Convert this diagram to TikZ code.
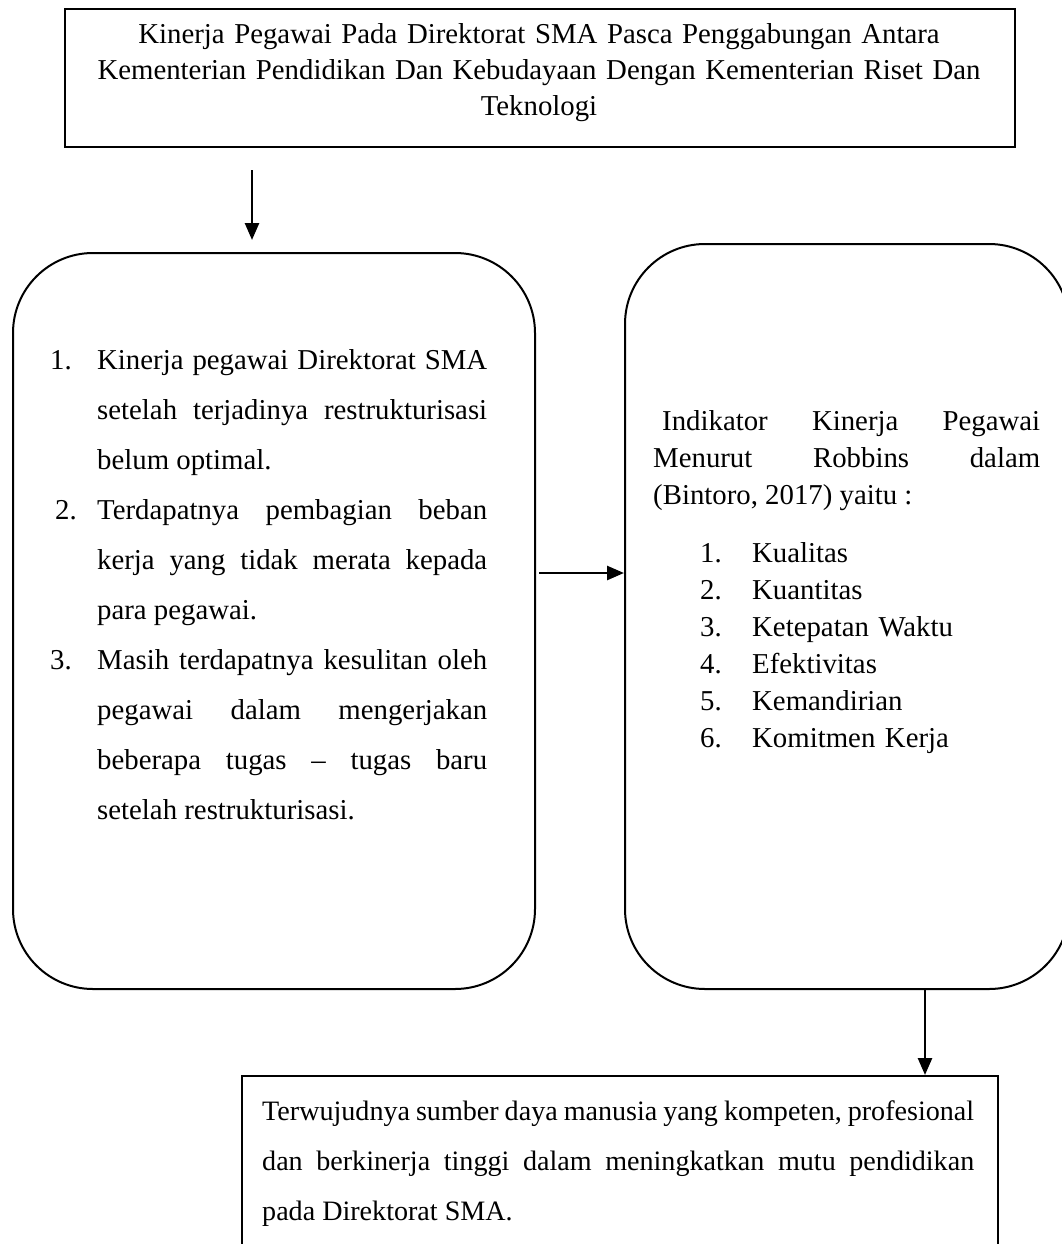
\documentclass[tikz,border=0pt]{standalone}
\usepackage{fontspec}
\setmainfont{Liberation Serif}
\usetikzlibrary{arrows.meta}
\tikzset{
  sqbox/.style={draw, line width=2pt, inner sep=0pt, anchor=north west},
  rbox/.style={draw, line width=2pt, rounded corners=80pt, inner sep=0pt, anchor=north west},
  arr/.style={line width=2.6pt, -{Triangle[length=17pt,width=14pt]}},
  txt/.style={inner sep=0pt, font=\fontsize{28.8}{36}\selectfont},
}
\begin{document}
\begin{tikzpicture}[x=1pt,y=-1pt]
\useasboundingbox (0,0) rectangle (1062,1244);
\clip (0,0) rectangle (1062,1244);
% boxes
\node[sqbox, minimum width=950pt, minimum height=138pt] (top) at (64,8) {};
\node[rbox, minimum width=522pt, minimum height=736pt] (left) at (12,252) {};
\node[rbox, minimum width=444pt, minimum height=745pt] (right) at (624,243) {};
\node[sqbox, minimum width=756pt, minimum height=220pt] (bottom) at (241,1075) {};
% texts
\node[txt, anchor=base, text width=950pt, align=center] (toptext) at (539,44)
  {Kinerja Pegawai Pada Direktorat SMA Pasca Penggabungan Antara\\
   Kementerian Pendidikan Dan Kebudayaan Dengan Kementerian Riset Dan\\
   Teknologi};
\node[txt, anchor=base west, text width=437pt, align=justify] (lefttext) at (50,369)
  {\baselineskip=50pt
   \hangindent=47pt\hangafter=1\noindent\makebox[47pt][l]{1.}Kinerja pegawai Direktorat SMA\linebreak
   setelah terjadinya restrukturisasi\linebreak belum optimal.\par
   \hangindent=47pt\hangafter=1\noindent\makebox[47pt][l]{\hspace{5pt}2.}Terdapatnya pembagian beban\linebreak
   kerja yang tidak merata kepada\linebreak para pegawai.\par
   \hangindent=47pt\hangafter=1\noindent\makebox[47pt][l]{3.}Masih terdapatnya kesulitan oleh\linebreak
   pegawai dalam mengerjakan\linebreak beberapa tugas -- tugas baru\linebreak
   setelah restrukturisasi.\par};
\node[txt, anchor=base west, text width=387pt, align=justify] (righttext) at (653,430)
  {\baselineskip=37pt
   \hspace*{9pt}Indikator Kinerja Pegawai\linebreak Menurut Robbins dalam\linebreak
   (Bintoro, 2017) yaitu :\par};
\node[txt, anchor=base west, text width=330pt, align=left, font=\fontsize{28.8}{37}\selectfont] (rightlist) at (700,562)
  {\makebox[52pt][l]{1.}Kualitas\\
   \makebox[52pt][l]{2.}Kuantitas\\
   \makebox[52pt][l]{3.}Ketepatan Waktu\\
   \makebox[52pt][l]{4.}Efektivitas\\
   \makebox[52pt][l]{5.}Kemandirian\\
   \makebox[52pt][l]{6.}Komitmen Kerja};
\node[txt, anchor=base west, text width=712pt, align=justify, font=\fontsize{28.1}{50}\selectfont] (bottomtext) at (262,1120)
  {\hyphenpenalty=10000 \baselineskip=50pt
   Terwujudnya~sumber~daya~manusia~yang~kompeten,~profesional\linebreak
   dan berkinerja tinggi dalam meningkatkan mutu pendidikan\linebreak
   pada Direktorat SMA.\par};
% connectors
\coordinate (a1s) at (252,170);
\coordinate (a1e) at (252,240);
\draw[arr] (a1s) -- (a1e);
\coordinate (a2s) at (539,573);
\draw[arr] (a2s) -- (a2s -| right.west);
\coordinate (a3x) at (925,0);
\draw[arr] (right.south -| a3x) -- (bottom.north -| a3x);
\end{tikzpicture}
\end{document}
